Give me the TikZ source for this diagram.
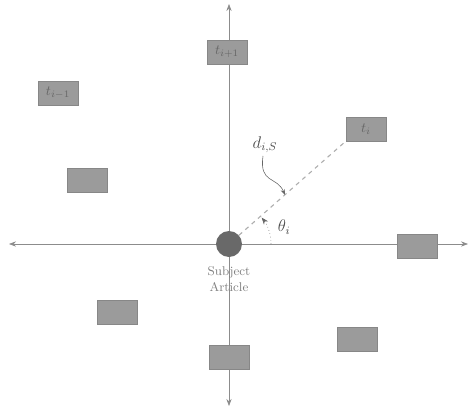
\documentclass[tikz,border=0pt]{standalone}
\usepackage{tikz}
\usepackage{amssymb}
\definecolor{boxgray}{RGB}{155, 155, 155}
\definecolor{boxedge}{RGB}{135, 135, 135}
\definecolor{dotgray}{RGB}{105, 105, 105}
\definecolor{axisgray}{RGB}{140, 140, 140}
\usetikzlibrary{arrows.meta, positioning, calc}

\begin{document}
\begin{tikzpicture}[
    article/.style={draw=boxedge, fill=boxgray, minimum width=1cm,
                    minimum height=0.6cm, inner sep=0pt, text=black!60},
    axisline/.style={axisgray, line width=0.5pt, {Stealth[length=5pt]}-{Stealth[length=5pt]}}
]
    \useasboundingbox (-5.725,-4.05) rectangle (6.05,6.1);

    % Axes
    \coordinate (xl) at (-5.5,0);
    \coordinate (xr) at (5.975,0);
    \coordinate (yb) at (0,-4.05);
    \coordinate (yt) at (0,6.0);
    \draw[axisline] (xl) -- (xr);
    \draw[axisline] (yb) -- (yt);

    % Subject article
    \node[circle, fill=dotgray, minimum size=0.65cm, inner sep=0pt] (subj) at (0,0) {};
    \node[below=0.12cm of subj, font=\small, align=center, text=black!50] (subjlabel) {Subject\\Article};

    % Other articles
    \node[article] (top) at (-0.05,4.8) {$t_{i+1}$};
    \node[article] (lup) at (-4.275,3.775) {$t_{i-1}$};
    \node[article] (ti) at (3.425,2.875) {$t_i$};
    \node[article] (lmid) at (-3.55,1.6) {};
    \node[article] (rax) at (4.7,-0.05) {};
    \node[article] (llow) at (-2.8,-1.7) {};
    \node[article] (bot) at (0,-2.825) {};
    \node[article] (rlow) at (3.2,-2.375) {};

    % Distance
    \draw[dashed, axisgray!70, line width=0.8pt] (subj) -- (ti.south west)
        coordinate[pos=0.43] (dmid);
    \node[text=black!70, font=\large] (dlabel) at (0.9,2.48) {$d_{i,S}$};
    \draw[-{Stealth[length=4pt]}, black!60] (dlabel.south) ++(-0.05,0.05)
        .. controls (0.75,1.5) and (1.2,1.7) .. (dmid);

    % Angle
    \coordinate (arcstart) at (1.05,0);
    \draw[dotted, black!60, -{Stealth[length=5pt]}] (arcstart) arc[start angle=0, end angle=39, radius=1.05];
    \node[text=black!70, font=\large] (theta) at (1.38,0.42) {$\theta_i$};
\end{tikzpicture}
\end{document}
